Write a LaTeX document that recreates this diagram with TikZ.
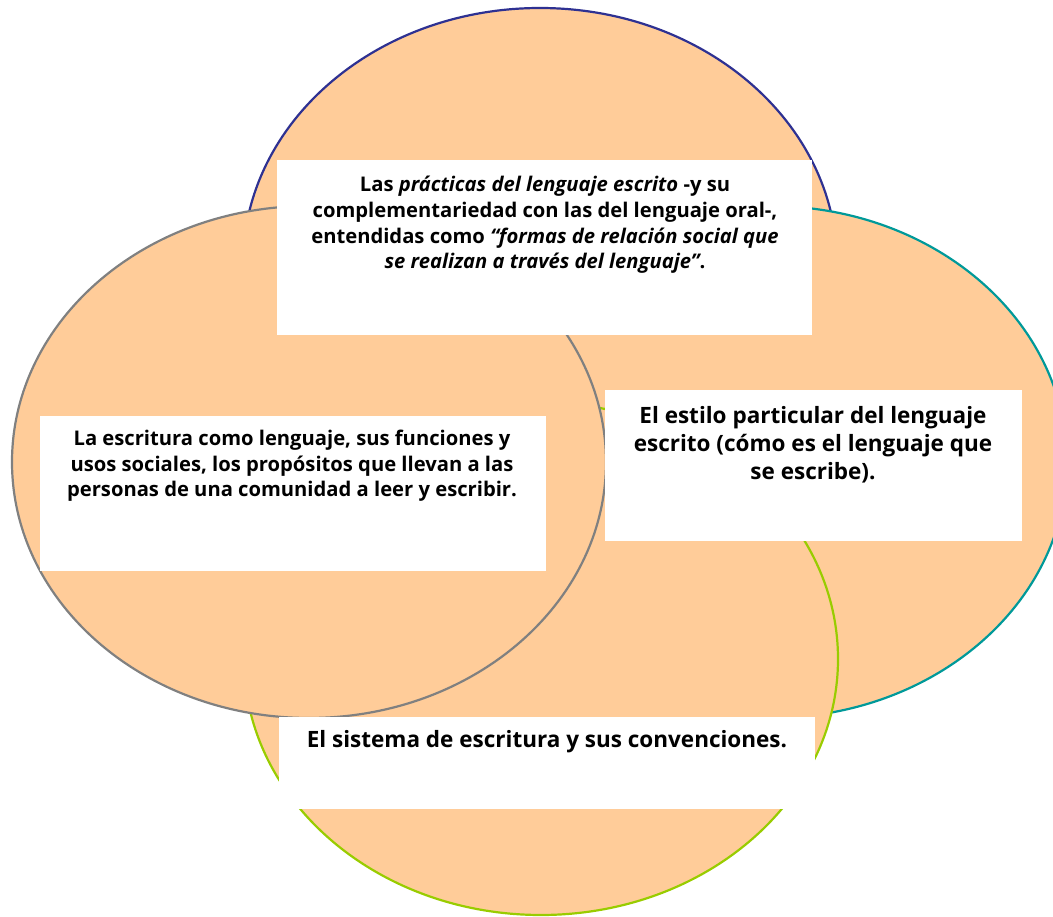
\documentclass[tikz,border=0pt]{standalone}
\usepackage{fontspec}
\setmainfont{Open Sans}
\usetikzlibrary{shapes.geometric}
\definecolor{peach}{HTML}{FFCC99}
\definecolor{navyc}{HTML}{2E3192}
\definecolor{tealc}{HTML}{009999}
\definecolor{greenc}{HTML}{99CC00}
\definecolor{grayc}{HTML}{808080}
\begin{document}
\begin{tikzpicture}[x=1pt,y=-1pt,
  venn/.style={ellipse, fill=peach, line width=2.2pt, minimum width=594pt, minimum height=512pt, inner sep=0pt},
  box/.style={rectangle, fill=white, inner sep=0pt},
  txts/.style={align=center, inner sep=0pt, font=\bfseries\fontsize{20.2}{25.6}\selectfont},
  txtl/.style={align=center, inner sep=0pt, font=\bfseries\fontsize{22.5}{28}\selectfont}]
\useasboundingbox (0,0) rectangle (1053,917);
\begin{scope}
\clip (0,0) rectangle (1053,917);
\node[venn, draw=navyc] (top) at (540,264) {};
\node[venn, draw=tealc] (right) at (770,462) {};
\node[venn, draw=greenc] (bottom) at (541,659) {};
\node[venn, draw=grayc] (left) at (309,462) {};
\end{scope}
\node[box, minimum width=535pt, minimum height=175pt] (b1) at (544.5,247.5) {};
\node[box, minimum width=506pt, minimum height=155pt] (b2) at (293,493.5) {};
\node[box, minimum width=417pt, minimum height=151pt] (b3) at (813.5,465.5) {};
\node[box, minimum width=536pt, minimum height=92pt] (b4) at (547,763) {};
\node[txts] (t1) at (545,225) {Las \textit{prácticas del lenguaje escrito} -y su\\complementariedad con las del lenguaje oral-,\\entendidas como \textit{“formas de relación social que}\\\textit{se realizan a través del lenguaje”}.};
\node[txts] (t2) at (292,466) {La escritura como lenguaje, sus funciones y\\usos sociales, los propósitos que llevan a las\\personas de una comunidad a leer y escribir.};
\node[txtl] (t3) at (813,445) {El estilo particular del lenguaje\\escrito (cómo es el lenguaje que\\se escribe).};
\node[txtl] (t4) at (547,742) {El sistema de escritura y sus convenciones.};
\end{tikzpicture}
\end{document}
